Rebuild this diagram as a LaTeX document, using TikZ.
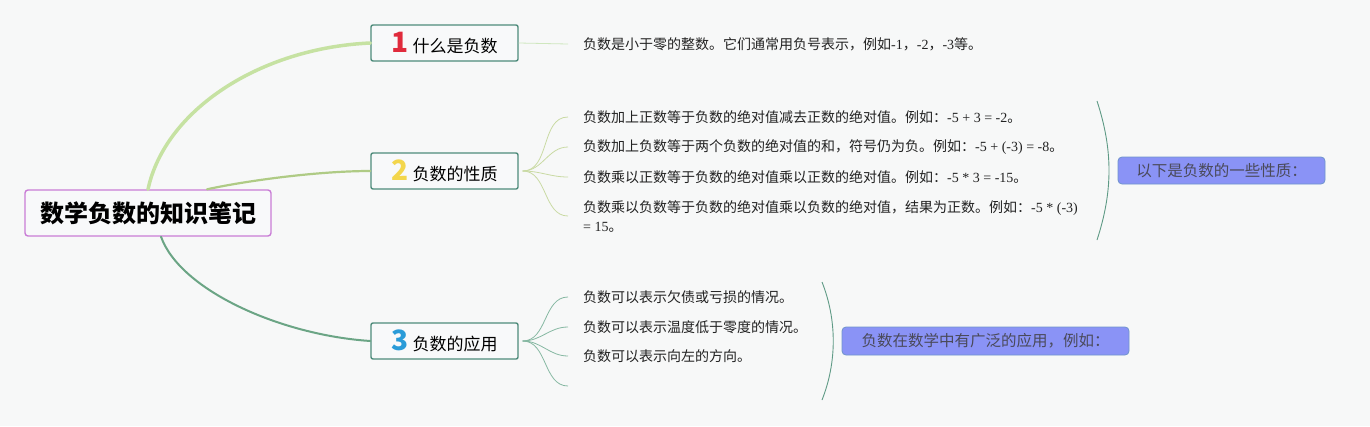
\documentclass[tikz,border=0pt]{standalone}
\usepackage{fontspec}
\setmainfont{Noto Sans CJK SC}
\newfontfamily\latinfont{Liberation Serif}
\usetikzlibrary{calc}

\definecolor{bgcol}{HTML}{F7F8F8}
\definecolor{boxfill}{HTML}{F8F9FA}
\definecolor{rootpink}{HTML}{C97DD6}
\definecolor{topicteal}{HTML}{4E8B7B}
\definecolor{branchone}{HTML}{C6E2A2}
\definecolor{branchtwo}{HTML}{AFCB85}
\definecolor{branchthree}{HTML}{6BA585}
\definecolor{twigone}{HTML}{CFE7BE}
\definecolor{twigtwo}{HTML}{C9DAA3}
\definecolor{twigthree}{HTML}{86B8A2}
\definecolor{bracecol}{HTML}{5E9A85}
\definecolor{summfill}{HTML}{8A93F6}
\definecolor{summline}{HTML}{6F94CC}
\definecolor{summtext}{HTML}{4A4A5A}
\definecolor{leafgray}{HTML}{222222}
\definecolor{numred}{HTML}{E02B3C}
\definecolor{numyellow}{HTML}{F3D64C}
\definecolor{numblue}{HTML}{2A9BD8}

\newcommand\lat[1]{{\latinfont #1}}
\newcommand\topicnum[2]{{\color{#1}\fontsize{28}{28}\selectfont\bfseries #2}\hspace{4pt}}

\begin{document}
\begin{tikzpicture}[
  x=1pt, y=1pt,
  central/.style={draw=rootpink,line width=1.4pt,rounded corners=3pt,fill=boxfill,
    minimum width=246pt,minimum height=46pt,inner sep=0pt,font=\fontsize{24}{28}\selectfont\bfseries},
  subtopic/.style={draw=topicteal,line width=1.4pt,rounded corners=2pt,fill=boxfill,
    minimum width=147pt,minimum height=36pt,inner sep=0pt,font=\fontsize{17}{20}\selectfont},
  leaf/.style={anchor=west,inner sep=0pt,align=left,text=leafgray,font=\fontsize{14}{19}\selectfont},
  summ/.style={draw=summline,fill=summfill,line width=0.8pt,rounded corners=4pt,inner sep=0pt,
    text=summtext,font=\fontsize{15.5}{18}\selectfont},
  stem/.style={line width=#1,line cap=round},
  twig/.style={line width=0.8pt},
  brace/.style={draw=bracecol,line width=0.9pt}
]
  \fill[bgcol] (0,0) rectangle (1370,-426);
  \useasboundingbox (0,0) rectangle (1370,-426);

  \node[central] (root) at (148,-213) {数学负数的知识笔记};

  \node[subtopic] (t1) at (444.5,-43) {\topicnum{numred}{1}什么是负数};
  \node[subtopic] (t2) at (444.5,-171) {\topicnum{numyellow}{2}负数的性质};
  \node[subtopic] (t3) at (444.5,-341) {\topicnum{numblue}{3}负数的应用};

  % main branches
  \draw[stem=3.5pt,branchone] (root.north) .. controls (165,-110) and (260,-48) .. (t1.west);
  \draw[stem=2.2pt,branchtwo] ($(root.north)+(59,0)$) .. controls (250,-180) and (320,-171) .. (t2.west);
  \draw[stem=2pt,branchthree] ($(root.south)+(13,0)$) .. controls (180,-290) and (280,-335) .. (t3.west);

  % leaves
  \node[leaf] (l11) at (583,-44) {负数是小于零的整数。它们通常用负号表示，例如\lat{-1}，\lat{-2}，\lat{-3}等。};

  \node[leaf] (l21) at (583,-117) {负数加上正数等于负数的绝对值减去正数的绝对值。例如：\lat{-5 + 3 = -2}。};
  \node[leaf] (l22) at (583,-147) {负数加上负数等于两个负数的绝对值的和，符号仍为负。例如：\lat{-5 + (-3) = -8}。};
  \node[leaf] (l23) at (583,-177) {负数乘以正数等于负数的绝对值乘以正数的绝对值。例如：\lat{-5 * 3 = -15}。};
  \node[leaf] (l24) at (583,-216) {负数乘以负数等于负数的绝对值乘以负数的绝对值，结果为正数。例如：\lat{-5 * (-3)}\\\lat{= 15}。};

  \node[leaf] (l31) at (583,-297) {负数可以表示欠债或亏损的情况。};
  \node[leaf] (l32) at (583,-327) {负数可以表示温度低于零度的情况。};
  \node[leaf] (l33) at (583,-356) {负数可以表示向左的方向。};
  \node[leaf] (l34) at (583,-386) {};

  \draw[twig,twigone] (t1.east) -- ([xshift=-15pt]l11.west);
  \foreach \n in {l21,l22,l23,l24}
    \draw[twig,twigtwo] ([xshift=4pt]t2.east) to[out=0,in=180] ([xshift=-15pt]\n.west);
  \foreach \n in {l31,l32,l33,l34}
    \draw[twig,twigthree] ([xshift=4pt]t3.east) to[out=0,in=180] ([xshift=-15pt]\n.west);

  % summaries
  \coordinate (b2a) at (1097,-101);
  \coordinate (b2b) at (1097,-240);
  \draw[brace] (b2a) .. controls (1113,-150) and (1113,-191) .. (b2b);
  \node[summ,minimum width=207pt,minimum height=27pt] (s2) at (1221.5,-170.5) {以下是负数的一些性质：};

  \coordinate (b3a) at (822,-282);
  \coordinate (b3b) at (822,-400);
  \draw[brace] (b3a) .. controls (837,-320) and (837,-362) .. (b3b);
  \node[summ,minimum width=287pt,minimum height=28pt] (s3) at (985.5,-341) {负数在数学中有广泛的应用，例如：};
\end{tikzpicture}
\end{document}
